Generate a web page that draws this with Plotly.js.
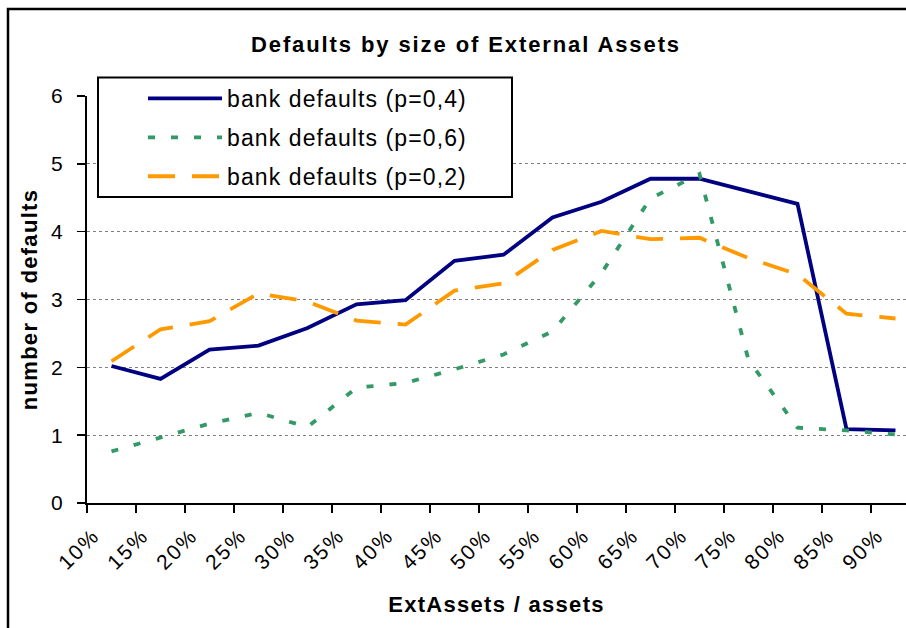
<!DOCTYPE html>
<html><head><meta charset="utf-8">
<script src="https://cdn.plot.ly/plotly-3.0.1.min.js"></script>
<style>
html,body{margin:0;padding:0;background:#fff;}
#chart{width:906px;height:628px;}
.gtitle{letter-spacing:1.9px;}
.xtitle,.ytitle{letter-spacing:1.3px;}
.legendtext{letter-spacing:1.1px;}
.xtick text{letter-spacing:2px;}
</style></head><body><div id="chart"></div>
<script>
const categories = ['10%','15%','20%','25%','30%','35%','40%','45%','50%','55%','60%','65%','70%','75%','80%','85%','90%'];
const defaultsP04 = [2.02, 1.83, 2.26, 2.32, 2.58, 2.93, 2.99, 3.57, 3.66, 4.21, 4.44, 4.78, 4.78, 4.60, 4.41, 1.09, 1.07];
const defaultsP06 = [0.76, 0.96, 1.17, 1.33, 1.12, 1.70, 1.77, 1.97, 2.19, 2.53, 3.39, 4.49, 4.85, 2.11, 1.11, 1.07, 1.01];
const defaultsP02 = [2.09, 2.56, 2.68, 3.09, 2.97, 2.69, 2.63, 3.13, 3.24, 3.73, 4.01, 3.89, 3.91, 3.61, 3.37, 2.79, 2.72];
const seriesNames = ['bank defaults (p=0,4)', 'bank defaults (p=0,6)', 'bank defaults (p=0,2)'];
const yTickValues = [0, 1, 2, 3, 4, 5, 6];

const W = 906, H = 628;
const M = {l: 87, r: 0, t: 96, b: 124.5};
const pw = W - M.l - M.r, ph = H - M.t - M.b;
const catPx = 49;
const px2x = x => (x - M.l) / pw;
const px2y = y => (H - M.b - y) / ph;

const FONT = 'Liberation Sans, Arial, sans-serif';

const traces = [
  {x: categories, y: defaultsP04, name: seriesNames[0], legendgroup: 'a', type: 'scatter', mode: 'lines',
   line: {color: '#000080', width: 3.8}},
  {x: categories, y: defaultsP06, name: seriesNames[1], legendgroup: 'b', type: 'scatter', mode: 'lines',
   line: {color: '#339966', width: 3.8, dash: '7px,16px'}},
  {x: categories, y: defaultsP02, name: seriesNames[2], legendgroup: 'c', type: 'scatter', mode: 'lines',
   line: {color: '#FF9900', width: 3.8, dash: '27px,17px'}}
];

const layout = {
  width: W, height: H,
  margin: M,
  paper_bgcolor: '#fff', plot_bgcolor: 'rgba(0,0,0,0)',
  font: {family: FONT, color: '#000', size: 21},
  showlegend: true,
  title: {text: '<b>Defaults by size of External Assets</b>', font: {size: 22, family: FONT},
          x: 466 / W, xref: 'container', xanchor: 'center', y: 1 - 44 / H, yref: 'container', yanchor: 'middle'},
  xaxis: {
    type: 'category', categoryarray: categories,
    range: [-0.5, -0.5 + pw / catPx],
    tickson: 'boundaries', ticks: 'outside', ticklen: 8, tickwidth: 2, tickcolor: '#000',
    showline: true, linecolor: '#000', linewidth: 2, showgrid: false, zeroline: false,
    tickangle: -45, tickfont: {size: 21}, ticklabelshift: -18, ticklabelstandoff: 10,
    title: {text: '<b>ExtAssets / assets</b>', font: {size: 22}, standoff: 24},
    fixedrange: true
  },
  yaxis: {
    range: [0, 6], tickvals: yTickValues, ticktext: yTickValues.map(String),
    ticks: 'outside', ticklen: 8, tickwidth: 1.5, tickcolor: '#000',
    showline: true, linecolor: '#000', linewidth: 2,
    showgrid: true, gridcolor: '#808080', gridwidth: 1, griddash: 'dot', zeroline: false,
    tickfont: {size: 21}, ticklabelstandoff: 10,
    title: {text: '<b>number of defaults</b>', font: {size: 22}, standoff: 7},
    fixedrange: true
  },
  legend: {
    x: px2x(143), y: px2y(77), xanchor: 'left', yanchor: 'top',
    bgcolor: 'rgba(0,0,0,0)', borderwidth: 0, font: {size: 23},
    itemwidth: 74, tracegroupgap: 6, traceorder: 'grouped'
  },
  shapes: [
    {type: 'rect', xref: 'paper', yref: 'paper', layer: 'below',
     x0: px2x(8), x1: px2x(912), y0: px2y(640), y1: px2y(9),
     line: {color: '#000', width: 2.5}, fillcolor: 'rgba(0,0,0,0)'},
    {type: 'rect', xref: 'paper', yref: 'paper', layer: 'above',
     x0: px2x(98), x1: px2x(512), y0: px2y(197), y1: px2y(77.5),
     line: {color: '#000', width: 2}, fillcolor: '#fff'}
  ]
};

Plotly.newPlot('chart', traces, layout, {displayModeBar: false, staticPlot: true});
</script></body></html>
